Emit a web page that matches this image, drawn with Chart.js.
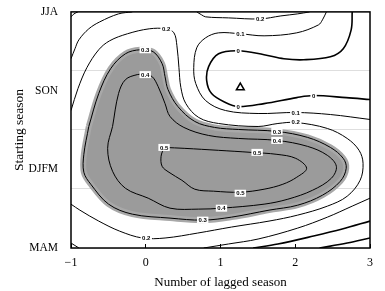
<!DOCTYPE html>
<html><head><meta charset="utf-8">
<script src="https://cdn.jsdelivr.net/npm/chart.js@4"></script>
<style>html,body{margin:0;padding:0;background:#fff}</style>
</head><body>
<canvas id="c" width="385" height="291"></canvas>
<script>
// ---- data (x = number of lagged season, y = starting season index) ----
const seasons = ['MAM', 'DJFM', 'SON', 'JJA'];
const lagTicks = [-1, 0, 1, 2, 3];

const cornerTopLeft = [[-1,2.937],[-0.960,2.975],[-0.907,3.0]];
const cornerBottomLeft = [[-1,0.063],[-0.894,0]];
const c01Left = [[-1,2.405],[-0.947,2.532],[-0.894,2.646],[-0.762,2.785],[-0.616,2.873],[-0.364,2.975],[-0.179,3.0]];
const c02Wrap = [[-1,1.747],[-0.907,2.025],[-0.788,2.291],[-0.629,2.519],[-0.483,2.633],[-0.245,2.722],[0.046,2.785],[0.272,2.785],[0.377,2.734],[0.417,2.570],[0.444,2.291],[0.470,2.038],[0.536,1.835],[0.709,1.658],[0.974,1.582],[1.503,1.544],[1.768,1.582],[2.007,1.595],[2.430,1.519],[2.695,1.392],[2.854,1.241],[2.907,1.076],[2.868,0.861],[2.695,0.658],[2.430,0.532],[2.033,0.418],[1.649,0.342],[1.146,0.266],[0.695,0.190],[0.258,0.127],[-0.046,0.127],[-0.351,0.215],[-0.629,0.342],[-0.881,0.481],[-1,0.557]];
const c03Loop = [[-0.762,1.544],[-0.629,1.962],[-0.470,2.278],[-0.272,2.468],[-0.073,2.519],[0.099,2.494],[0.219,2.342],[0.258,2.177],[0.298,2.013],[0.430,1.797],[0.656,1.608],[0.921,1.532],[1.238,1.506],[1.755,1.481],[2.166,1.405],[2.470,1.278],[2.642,1.139],[2.682,1.013],[2.603,0.848],[2.364,0.671],[2.033,0.544],[1.649,0.481],[1.146,0.392],[0.762,0.354],[0.325,0.380],[-0.179,0.430],[-0.497,0.557],[-0.735,0.810],[-0.828,0.962],[-0.828,1.190],[-0.762,1.544]];
const c04Loop = [[-0.444,1.544],[-0.364,1.962],[-0.272,2.139],[-0.113,2.203],[-0.007,2.203],[0.086,2.177],[0.166,2.051],[0.258,1.835],[0.325,1.671],[0.510,1.532],[0.841,1.430],[1.238,1.392],[1.755,1.367],[2.166,1.291],[2.430,1.177],[2.550,1.038],[2.483,0.886],[2.232,0.734],[1.901,0.620],[1.583,0.557],[1.013,0.506],[0.709,0.494],[0.325,0.506],[0.033,0.633],[-0.272,0.759],[-0.444,0.975],[-0.510,1.266],[-0.444,1.544]];
const c05Loop = [[0.245,1.278],[0.523,1.266],[0.974,1.241],[1.411,1.215],[1.755,1.190],[2.007,1.139],[2.152,1.013],[2.020,0.899],[1.834,0.810],[1.583,0.747],[1.265,0.709],[0.907,0.722],[0.656,0.747],[0.483,0.861],[0.311,0.962],[0.219,1.038],[0.205,1.165],[0.245,1.278]];
const c02TopRight = [[0.682,3.0],[0.748,2.962],[0.801,2.937],[1.106,2.924],[1.530,2.911],[1.808,2.949],[2.033,2.975],[2.192,3.0]];
const c01Right = [[2.417,3.0],[2.364,2.899],[2.311,2.835],[2.020,2.734],[1.583,2.696],[1.265,2.722],[0.974,2.734],[0.801,2.671],[0.682,2.544],[0.642,2.291],[0.669,2.089],[0.801,1.873],[1.066,1.747],[1.503,1.709],[2.007,1.722],[2.470,1.696],[3.0,1.633]];
const c00Right = [[2.762,3.0],[2.748,2.772],[2.642,2.532],[2.470,2.430],[2.113,2.392],[1.848,2.405],[1.583,2.456],[1.238,2.506],[0.974,2.468],[0.841,2.304],[0.815,2.127],[0.881,1.962],[1.066,1.848],[1.238,1.797],[1.583,1.835],[2.020,1.911],[2.245,1.937],[2.682,1.911],[3.0,1.886]];
const c01Bottom = [[0.775,0],[1.106,0.051],[1.503,0.114],[2.033,0.253],[2.430,0.392],[2.762,0.532],[3.0,0.633]];
const c00Bottom = [[1.437,0],[1.768,0.051],[2.245,0.152],[2.629,0.241],[3.0,0.342]];
const cm01Corner = [[2.325,0],[2.695,0.063],[3.0,0.127]];
const minimumMark = [[1.265,2.038]];

const contourLabels = [
  ['0.2',0.272,2.785],['0.3',-0.007,2.519],['0.4',-0.007,2.203],
  ['0.1',1.265,2.722],['0.2',1.530,2.911],['0',1.238,2.506],['0',1.238,1.797],
  ['0',2.245,1.937],['0.1',2.007,1.722],['0.2',2.007,1.608],['0.3',1.755,1.481],['0.4',1.755,1.367],
  ['0.5',0.245,1.278],['0.5',1.490,1.215],['0.5',1.265,0.696],['0.4',1.013,0.506],['0.3',0.762,0.354],['0.2',0.007,0.127]
];

// ---- chart ----
const pts = a => a.map(p => ({x: p[0], y: p[1]}));
function line(arr, w) {
  return {data: pts(arr), showLine: true, pointRadius: 0, borderColor: '#000', borderWidth: w || 1, tension: 0.35, fill: false, order: 1};
}
const serif = '"Liberation Serif", "DejaVu Serif", serif';

const frame = {
  id: 'frame',
  afterDatasetsDraw(chart) {
    const {ctx, chartArea: a, scales} = chart;
    ctx.save();
    ctx.font = 'bold 6px "Liberation Sans", Arial, sans-serif';
    ctx.textAlign = 'center'; ctx.textBaseline = 'middle';
    contourLabels.forEach(([t, x, y]) => {
      const px = scales.x.getPixelForValue(x), py = scales.y.getPixelForValue(y);
      const w = ctx.measureText(t).width + 3;
      ctx.fillStyle = '#fff';
      ctx.fillRect(px - w / 2, py - 3.5, w, 7);
      ctx.fillStyle = '#000';
      ctx.fillText(t, px, py + 0.5);
    });
    ctx.strokeStyle = '#000'; ctx.lineWidth = 1.5;
    ctx.strokeRect(a.left, a.top, a.right - a.left, a.bottom - a.top);
    ctx.restore();
  }
};

new Chart(document.getElementById('c'), {
  type: 'scatter',
  data: {datasets: [
    {data: pts(c03Loop), showLine: true, pointRadius: 0, borderColor: '#a8a8a8', borderWidth: 6, backgroundColor: '#9b9b9b', fill: 'shape', tension: 0.35, order: 5},
    line(cornerTopLeft), line(cornerBottomLeft), line(c01Left), line(c02Wrap),
    line(c03Loop), line(c04Loop), line(c05Loop),
    line(c02TopRight), line(c01Right), line(c00Right, 1.6),
    line(c01Bottom), line(c00Bottom, 1.6), line(cm01Corner, 1.6),
    {data: pts(minimumMark), showLine: false, pointStyle: 'triangle', pointRadius: 4.5, backgroundColor: '#fff', borderColor: '#000', borderWidth: 1.5, order: 0}
  ]},
  options: {
    responsive: false, animation: false, events: [],
    layout: {padding: {top: 11, right: 12, left: 0, bottom: 0}},
    plugins: {legend: {display: false}, tooltip: {enabled: false}},
    scales: {
      x: {
        type: 'linear', min: -1, max: 3,
        afterBuildTicks: s => { s.ticks = lagTicks.map(v => ({value: v})); },
        afterFit: s => { s.height = 43; },
        ticks: {color: '#000', font: {family: serif, size: 12}, padding: 12,
          callback: v => String(v).replace('-', '\u2212')},
        grid: {drawOnChartArea: false, drawTicks: true, tickLength: -4, tickColor: '#000', tickWidth: 1},
        border: {display: false},
        title: {display: true, text: 'Number of lagged season', color: '#000', font: {family: serif, size: 13}, padding: {top: 0, bottom: 1}}
      },
      y: {
        type: 'linear', min: 0, max: 3,
        afterBuildTicks: s => { s.ticks = seasons.map((t, i) => ({value: i})); },
        afterFit: s => { s.width = 71; },
        ticks: {color: '#000', font: {family: serif, size: 11.5}, padding: 5, callback: v => seasons[v]},
        grid: {display: false},
        border: {display: false},
        title: {display: true, text: 'Starting season', color: '#000', font: {family: serif, size: 13.5}, padding: {top: 11, bottom: 0}}
      },
      y2: {
        type: 'linear', position: 'left', min: 0, max: 4, z: 1,
        afterFit: s => { s.width = 0; },
        ticks: {display: false, stepSize: 1},
        grid: {color: '#dedede', lineWidth: 1, drawTicks: false},
        border: {display: false}
      }
    }
  },
  plugins: [frame]
});
</script>
</body></html>
